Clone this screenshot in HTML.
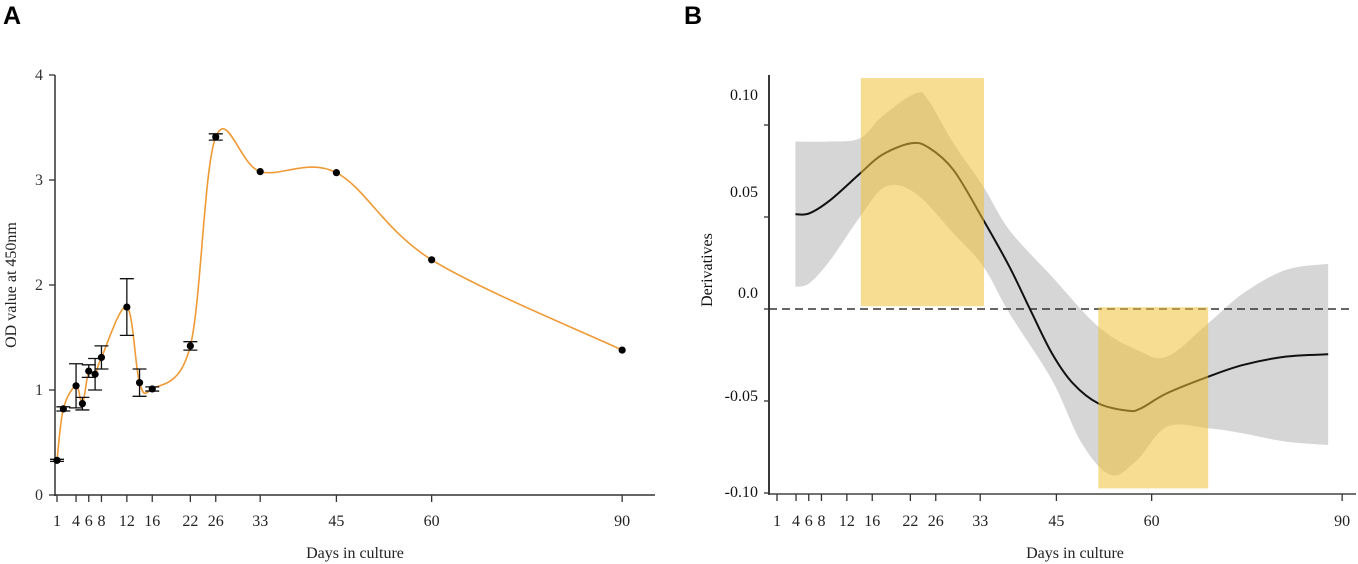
<!DOCTYPE html>
<html><head><meta charset="utf-8"><style>
html,body{margin:0;padding:0;background:#fff;}
svg{display:block;font-family:"Liberation Serif",serif;}
</style></head><body>
<svg width="1358" height="564" viewBox="0 0 1358 564" xmlns="http://www.w3.org/2000/svg">
<text x="3" y="24" font-family="Liberation Sans, sans-serif" font-weight="bold" font-size="25">A</text>
<text x="684" y="24" font-family="Liberation Sans, sans-serif" font-weight="bold" font-size="25">B</text>
<g id="pa"></g>
<g id="pb"></g>
</svg>
<script>
const xTicks=[1,4,6,8,12,16,22,26,33,45,60,90];
const aDays=[1,2,4,5,6,7,8,12,14,16,22,26,33,45,60,90];
const aOD=[0.33,0.82,1.04,0.87,1.18,1.15,1.31,1.79,1.07,1.01,1.42,3.41,3.08,3.07,2.24,1.38];
const aErr=[0.01,0.02,0.21,0.06,0.06,0.15,0.11,0.27,0.13,0.02,0.04,0.03,0,0,0,0];
const aYTicks=[0,1,2,3,4];
const bMeanDays=[3.9,6.1,9.4,14.1,17.5,22.0,24.8,28.8,33.5,37.6,40.9,44.3,47.6,51.6,56.3,58.3,62.4,68.9,74.4,81.1,87.8];
const bMean=[0.0515,0.052,0.0592,0.0737,0.0837,0.090,0.0879,0.0755,0.0484,0.023,-0.0005,-0.0241,-0.0404,-0.0513,-0.0553,-0.054,-0.0458,-0.0368,-0.0304,-0.0259,-0.0246];
const bUpDays=[3.9,9.4,14.1,17.5,22.8,24.8,28.8,33.5,37.6,44.3,51.6,57.7,62.4,68.9,74.4,81.1,87.8];
const bUp=[0.091,0.091,0.0928,0.1045,0.1172,0.1136,0.090,0.0665,0.0429,0.0176,-0.0096,-0.0223,-0.0259,-0.0078,0.0085,0.0212,0.0245];
const bLoDays=[3.9,6.1,9.4,14.1,18.1,22.8,28.8,33.5,37.6,44.3,49.0,53.6,57.7,62.4,68.9,74.4,81.1,87.8];
const bLo=[0.0121,0.014,0.0266,0.0502,0.0665,0.0629,0.0411,0.023,-0.0023,-0.0386,-0.073,-0.0902,-0.0821,-0.064,-0.0648,-0.0676,-0.0721,-0.0739];
const bRects=[[14.2,33.6,0.1255,0.0015],[51.6,68.9,0.001,-0.0975]];
const bYTicks=[0.1,0.05,0,-0.05,-0.1];
const bYLabels=["0.10","0.05","0.0","-0.05","-0.10"];
const NS="http://www.w3.org/2000/svg";
function mk(p,t,a){const e=document.createElementNS(NS,t);for(const k in a)e.setAttribute(k,a[k]);p.appendChild(e);return e;}
function cr(pts){let d="M"+pts[0][0]+","+pts[0][1];for(let i=0;i<pts.length-1;i++){const p0=pts[Math.max(0,i-1)],p1=pts[i],p2=pts[i+1],p3=pts[Math.min(pts.length-1,i+2)];d+="C"+(p1[0]+(p2[0]-p0[0])/6)+","+(p1[1]+(p2[1]-p0[1])/6)+" "+(p2[0]-(p3[0]-p1[0])/6)+","+(p2[1]-(p3[1]-p1[1])/6)+" "+p2[0]+","+p2[1];}return d;}
// Panel A
(function(){const g=document.getElementById('pa');
const X=v=>57+(v-1)*6.35, Y=v=>495-v*105;
mk(g,'line',{x1:55,y1:75,x2:55,y2:496,stroke:'#333','stroke-width':1.5,});
mk(g,'line',{x1:54,y1:495,x2:655,y2:495,stroke:'#333','stroke-width':1.5,});
aYTicks.forEach(v=>{mk(g,'line',{x1:49,y1:Y(v),x2:55,y2:Y(v),stroke:'#333','stroke-width':1.3});
const t=mk(g,'text',{x:43,y:Y(v)+5,'text-anchor':'end','font-size':16,fill:'#333'});t.textContent=v;

});
xTicks.forEach(v=>{mk(g,'line',{x1:X(v),y1:495,x2:X(v),y2:502,stroke:'#333','stroke-width':1.3});
const t=mk(g,'text',{x:X(v),y:526,'text-anchor':'middle','font-size':16,fill:'#222'});t.textContent=v;

});
let t=mk(g,'text',{x:355,y:558,'text-anchor':'middle','font-size':16,fill:'#222'});t.textContent='Days in culture';


t=mk(g,'text',{x:0,y:0,transform:'translate(16,285) rotate(-90)','text-anchor':'middle','font-size':16,fill:'#222'});t.textContent='OD value at 450nm';


const p=mk(g,'path',{d:cr(aDays.map((dd,i)=>[X(dd),Y(aOD[i])])),fill:'none',stroke:'#ef9a35','stroke-width':1.6});


aDays.forEach((dd,i)=>{const e=aErr[i];
if(e>0){const x=X(dd),y1=Y(aOD[i]+e),y2=Y(aOD[i]-e);
const eb=mk(g,'path',{d:`M${x},${y1}V${y2}M${x-7},${y1}H${x+7}M${x-7},${y2}H${x+7}`,stroke:'#111','stroke-width':1.3,fill:'none'});

}
const c=mk(g,'circle',{cx:X(dd),cy:Y(aOD[i]),r:3.6,fill:'#000'});

});
})();
// Panel B
(function(){const g=document.getElementById('pb');
const X=v=>777+(v-1)*6.35, Y=v=>309-v*1840;
const up=bUpDays.map((d,i)=>[X(d),Y(bUp[i])]);
const lo=bLoDays.map((d,i)=>[X(d),Y(bLo[i])]).reverse();
const dUp=cr(up),dLo=cr(lo);
const band=mk(g,'path',{d:dUp+"L"+lo[0][0]+","+lo[0][1]+dLo.replace(/^M[^C]*/,"")+"Z",fill:'#d6d6d6'});


const dl=mk(g,'line',{x1:769,y1:Y(0),x2:1351,y2:Y(0),stroke:'#333','stroke-width':1.6,'stroke-dasharray':'8,5'});


const m=mk(g,'path',{d:cr(bMeanDays.map((d,i)=>[X(d),Y(bMean[i])])),fill:'none',stroke:'#111','stroke-width':2});


bRects.forEach(r=>{const e=mk(g,'rect',{x:X(r[0]),y:Y(r[2]),width:X(r[1])-X(r[0]),height:Y(r[3])-Y(r[2]),fill:'rgba(239,192,53,0.54)'});

});
mk(g,'line',{x1:769,y1:75,x2:769,y2:495,stroke:'#222','stroke-width':1.8,});
mk(g,'line',{x1:768,y1:494,x2:1356,y2:494,stroke:'#444','stroke-width':1.5,});
const labY=[95,192,293,396,492];
bYTicks.forEach((v,i)=>{mk(g,'line',{x1:764,y1:Y(v),x2:769,y2:Y(v),stroke:'#333','stroke-width':1.3});
const t=mk(g,'text',{x:758,y:labY[i]+5,'text-anchor':'end','font-size':16,fill:'#111'});t.textContent=bYLabels[i];

});
xTicks.forEach(v=>{mk(g,'line',{x1:X(v),y1:494,x2:X(v),y2:501,stroke:'#333','stroke-width':1.3});
const t=mk(g,'text',{x:X(v),y:526,'text-anchor':'middle','font-size':16,fill:'#222'});t.textContent=v;

});
let t=mk(g,'text',{x:1075,y:558,'text-anchor':'middle','font-size':16,fill:'#222'});t.textContent='Days in culture';


t=mk(g,'text',{x:0,y:0,transform:'translate(712,270) rotate(-90)','text-anchor':'middle','font-size':16,fill:'#111'});t.textContent='Derivatives';


})();
</script>
</body></html>
